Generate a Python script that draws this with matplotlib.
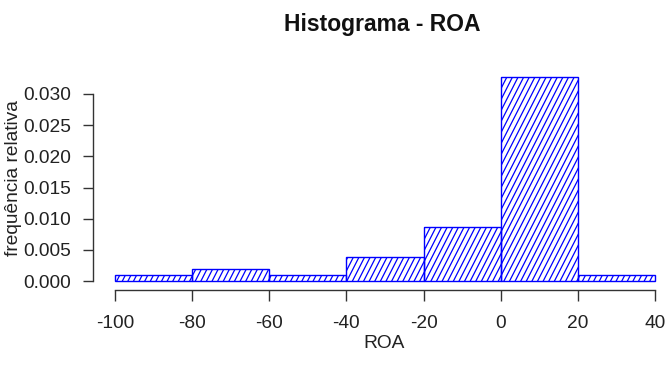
import numpy as np
import matplotlib
matplotlib.use("Agg")
import matplotlib.pyplot as plt
from matplotlib.collections import LineCollection
from matplotlib.transforms import IdentityTransform

# Data
bin_edges = [-100, -80, -60, -40, -20, 0, 20, 40]
counts = [1, 2, 1, 4, 9, 34, 1]
x_ticks = [-100, -80, -60, -40, -20, 0, 20, 40]
y_ticks = [0.000, 0.005, 0.010, 0.015, 0.020, 0.025, 0.030]

n = sum(counts)
widths = np.diff(bin_edges)
density = np.array(counts) / (n * widths)

plt.rcParams['font.family'] = ['Liberation Sans', 'DejaVu Sans']

W, H = 666, 378
DPI = 100
PX = 72 / DPI  # points per pixel
fig = plt.figure(figsize=(W / DPI, H / DPI), dpi=DPI)

# axes: -100 at x=115px, 40 at x=655px; 0 at y=281px, 0.030 at y=94px (from top)
x0, x1 = 115, 655
y0, y1 = 281, 94
ax = fig.add_axes([x0 / W, (H - y0) / H, (x1 - x0) / W, (y0 - y1) / H])
ax.set_xlim(bin_edges[0], bin_edges[-1])
ax.set_ylim(0, 0.030)

blue = (0, 0, 1)
bars = ax.bar(bin_edges[:-1], density, width=widths, align='edge',
              facecolor='none', edgecolor=blue, linewidth=1.0, clip_on=False,
              zorder=3)

fig.canvas.draw()
# custom shading lines (R-style density hatching)
angle = np.deg2rad(63)
spacing = 5.0
d = np.array([np.cos(angle), np.sin(angle)])
nvec = np.array([-np.sin(angle), np.cos(angle)])
for b in bars:
    bb = b.get_window_extent()
    corners = np.array([[bb.x0, bb.y0], [bb.x1, bb.y0], [bb.x0, bb.y1], [bb.x1, bb.y1]])
    proj = corners @ nvec
    pmin, pmax = proj.min(), proj.max()
    segs = []
    L = np.hypot(bb.width, bb.height) + 10
    cen = np.array([(bb.x0 + bb.x1) / 2, (bb.y0 + bb.y1) / 2])
    cproj = cen @ nvec
    k0 = int(np.floor(pmin / spacing))
    k1 = int(np.ceil(pmax / spacing))
    for k in range(k0, k1 + 1):
        p = k * spacing
        base = cen + (p - cproj) * nvec
        segs.append([base - d * L, base + d * L])
    lc = LineCollection(segs, colors=[blue], linewidths=0.9,
                        transform=IdentityTransform(), zorder=2)
    lc.set_clip_path(b.get_path(), b.get_transform())
    ax.add_collection(lc)

for s in ['top', 'right']:
    ax.spines[s].set_visible(False)
ax.spines['left'].set_position(('outward', 22 * PX))
ax.spines['bottom'].set_position(('outward', 9 * PX))
ax.spines['left'].set_bounds(0, 0.030)
ax.spines['bottom'].set_bounds(bin_edges[0], bin_edges[-1])
for s in ['left', 'bottom']:
    ax.spines[s].set_color('#333333')
    ax.spines[s].set_linewidth(1.0)

ax.set_xticks(x_ticks)
ax.set_xticklabels([str(v) for v in x_ticks])
ax.set_yticks(y_ticks)
ax.set_yticklabels([f"{v:.3f}" for v in y_ticks])
ax.tick_params(axis='both', length=10.5 * PX, width=1.0, color='#333333',
               labelsize=13.8, labelcolor='#222222')
ax.tick_params(axis='x', pad=10.5)
ax.tick_params(axis='y', pad=8.5)

fig.text(382 / W, 1 - 24 / H, "Histograma - ROA", ha='center', va='center',
         fontsize=16.5, fontweight='bold', color='#111111')
fig.text(384 / W, 1 - 344 / H, "ROA", ha='center', va='center',
         fontsize=13.8, color='#222222')
fig.text(14 / W, 1 - 178 / H, "frequência relativa", ha='center', va='center',
         rotation=90, fontsize=13.8, color='#222222')

fig.savefig("out.png", dpi=DPI)
